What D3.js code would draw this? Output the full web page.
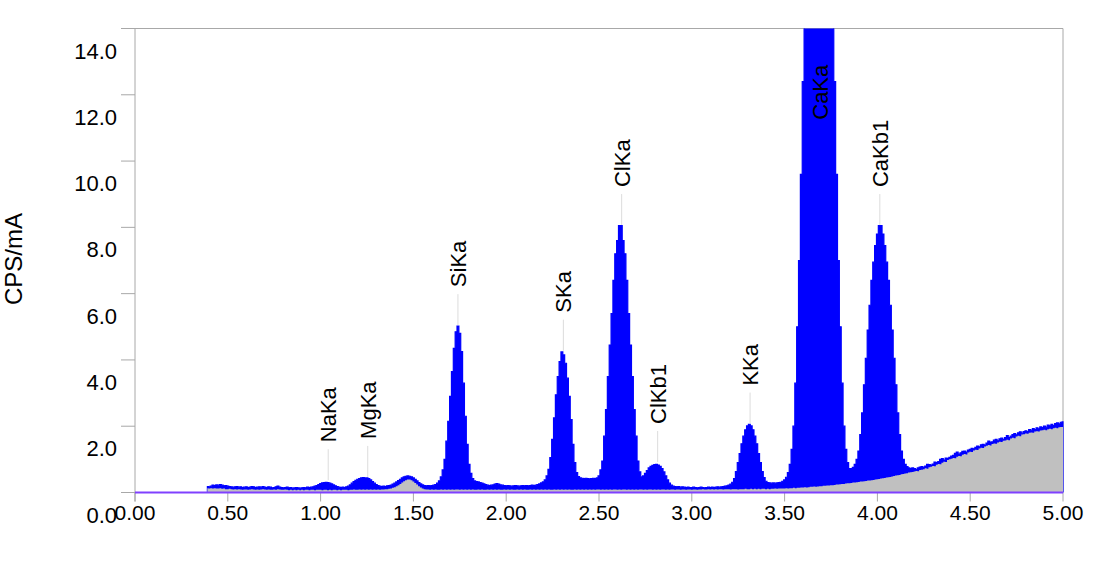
<!DOCTYPE html>
<html><head><meta charset="utf-8">
<script src="https://cdn.jsdelivr.net/npm/d3@7"></script>
<style>body{margin:0;background:#fff} svg{display:block} text{font-family:"Liberation Sans Narrow","Liberation Sans",Arial,sans-serif;fill:#000}</style>
</head><body><svg id="c" width="1120" height="561"></svg>
<script>
const energyStart = 0.39, energyStep = 0.01;
const spectrum = [
0.18,0.17,0.19,0.22,0.21,0.23,0.22,0.24,0.22,0.20,0.21,
0.19,0.18,0.17,0.16,0.17,0.18,0.16,0.17,0.15,0.16,
0.17,0.15,0.16,0.18,0.17,0.15,0.16,0.17,0.16,0.18,
0.16,0.15,0.17,0.16,0.14,0.15,0.17,0.19,0.16,0.15,
0.14,0.15,0.16,0.14,0.15,0.13,0.14,0.15,0.14,0.13,
0.14,0.15,0.14,0.16,0.15,0.16,0.17,0.19,0.21,0.24,
0.27,0.29,0.30,0.31,0.30,0.28,0.26,0.23,0.20,0.18,
0.16,0.15,0.16,0.15,0.17,0.19,0.23,0.28,0.33,0.37,
0.40,0.42,0.44,0.45,0.44,0.44,0.42,0.38,0.33,0.28,
0.24,0.21,0.19,0.18,0.19,0.18,0.20,0.21,0.22,0.25,
0.28,0.32,0.36,0.40,0.44,0.47,0.49,0.50,0.49,0.47,
0.44,0.40,0.35,0.30,0.26,0.23,0.21,0.20,0.21,0.20,
0.21,0.22,0.24,0.28,0.35,0.47,0.68,1.00,1.55,2.15,
2.90,3.65,4.35,4.85,5.02,4.80,4.25,3.30,2.30,1.45,
0.85,0.58,0.42,0.35,0.33,0.32,0.30,0.28,0.26,0.24,
0.22,0.21,0.22,0.23,0.25,0.27,0.25,0.23,0.22,0.21,
0.20,0.21,0.20,0.19,0.20,0.21,0.20,0.19,0.20,0.21,
0.20,0.21,0.20,0.21,0.22,0.21,0.22,0.24,0.26,0.29,
0.32,0.38,0.50,0.70,1.05,1.60,2.25,2.95,3.50,3.95,
4.24,4.15,3.90,3.45,2.90,2.20,1.45,0.90,0.60,0.48,
0.44,0.43,0.42,0.43,0.42,0.41,0.42,0.43,0.42,0.44,
0.50,0.68,0.95,1.70,2.50,3.50,4.45,5.40,6.40,7.20,
7.60,8.05,8.05,7.60,7.20,6.40,5.40,4.45,3.50,2.50,
1.70,0.95,0.62,0.47,0.50,0.58,0.66,0.74,0.79,0.82,
0.84,0.85,0.83,0.79,0.72,0.62,0.50,0.38,0.28,0.22,
0.19,0.18,0.17,0.18,0.16,0.17,0.16,0.15,0.16,0.15,
0.15,0.16,0.15,0.14,0.15,0.16,0.15,0.14,0.15,0.16,
0.15,0.16,0.15,0.16,0.17,0.16,0.17,0.18,0.19,0.20,
0.22,0.25,0.31,0.42,0.63,0.90,1.17,1.47,1.70,1.89,
2.01,2.06,2.01,1.89,1.70,1.47,1.17,0.90,0.63,0.45,
0.34,0.30,0.29,0.28,0.29,0.28,0.29,0.30,0.31,0.34,
0.38,0.46,0.60,0.85,1.30,2.00,3.30,5.00,7.00,9.60,
12.4,14.6,17.5,21.0,26.0,31.0,36.0,40.0,42.0,42.0,
40.0,36.0,31.0,26.0,21.0,17.5,14.6,12.4,9.60,7.00,
5.00,3.30,2.00,1.30,0.90,0.72,0.72,0.76,0.85,1.00,
1.25,1.75,2.40,3.25,4.05,4.90,5.65,6.40,6.95,7.45,
7.80,8.05,8.05,7.80,7.45,6.95,6.40,5.65,4.90,4.05,
3.25,2.40,1.75,1.25,1.00,0.85,0.78,0.74,0.72,0.74,
0.72,0.70,0.74,0.77,0.78,0.76,0.80,0.85,0.84,0.83,
0.86,0.92,0.90,0.93,1.00,1.02,0.98,1.04,1.03,1.06,
1.10,1.12,1.18,1.22,1.16,1.20,1.24,1.25,1.22,1.28,
1.30,1.33,1.32,1.36,1.40,1.38,1.44,1.45,1.43,1.49,
1.55,1.52,1.53,1.58,1.60,1.56,1.62,1.64,1.60,1.66,
1.72,1.66,1.70,1.75,1.78,1.74,1.80,1.83,1.79,1.84,
1.86,1.84,1.90,1.88,1.93,1.90,1.95,1.92,1.98,1.96,
2.00,1.97,2.03,2.01,2.06,2.02,2.08,2.10,2.07,2.12,
2.13];
const background = [
0.13,0.12,0.13,0.12,0.13,0.12,0.12,0.13,0.11,0.12,0.10,
0.10,0.11,0.10,0.09,0.10,0.09,0.10,0.09,0.08,0.09,
0.09,0.08,0.09,0.10,0.09,0.08,0.09,0.08,0.09,0.10,
0.09,0.08,0.09,0.08,0.08,0.09,0.08,0.10,0.09,0.08,
0.08,0.09,0.08,0.07,0.08,0.07,0.08,0.07,0.08,0.07,
0.08,0.07,0.08,0.08,0.07,0.08,0.08,0.07,0.08,0.08,
0.08,0.07,0.08,0.08,0.07,0.08,0.07,0.08,0.08,0.07,
0.08,0.07,0.08,0.08,0.08,0.07,0.08,0.08,0.09,0.08,
0.08,0.09,0.08,0.09,0.08,0.09,0.08,0.09,0.08,0.09,
0.08,0.09,0.08,0.09,0.09,0.10,0.10,0.11,0.12,0.14,
0.16,0.19,0.22,0.26,0.30,0.34,0.37,0.39,0.39,0.37,
0.33,0.29,0.24,0.19,0.15,0.12,0.10,0.09,0.09,0.08,
0.09,0.08,0.09,0.08,0.08,0.09,0.08,0.09,0.08,0.09,
0.08,0.09,0.08,0.09,0.09,0.08,0.09,0.08,0.09,0.08,
0.09,0.08,0.09,0.08,0.08,0.09,0.08,0.09,0.08,0.08,
0.09,0.08,0.09,0.08,0.09,0.08,0.09,0.08,0.08,0.09,
0.08,0.09,0.08,0.09,0.08,0.08,0.09,0.08,0.09,0.08,
0.09,0.08,0.08,0.09,0.08,0.09,0.08,0.09,0.08,0.09,
0.08,0.09,0.08,0.09,0.08,0.08,0.09,0.08,0.09,0.08,
0.09,0.08,0.09,0.08,0.09,0.08,0.08,0.09,0.08,0.09,
0.08,0.09,0.08,0.09,0.08,0.09,0.08,0.09,0.08,0.09,
0.09,0.08,0.09,0.08,0.09,0.08,0.09,0.08,0.09,0.09,
0.08,0.09,0.08,0.09,0.09,0.08,0.09,0.08,0.09,0.08,
0.09,0.08,0.09,0.09,0.08,0.09,0.08,0.09,0.09,0.08,
0.09,0.08,0.09,0.08,0.09,0.09,0.08,0.09,0.08,0.09,
0.09,0.08,0.09,0.09,0.08,0.09,0.09,0.08,0.09,0.09,
0.08,0.09,0.09,0.08,0.09,0.09,0.10,0.09,0.09,0.10,
0.09,0.10,0.09,0.10,0.09,0.10,0.10,0.09,0.10,0.10,
0.10,0.09,0.10,0.10,0.10,0.09,0.10,0.10,0.10,0.11,
0.10,0.10,0.11,0.10,0.11,0.10,0.11,0.10,0.11,0.11,
0.10,0.11,0.10,0.11,0.11,0.12,0.11,0.12,0.12,0.12,
0.12,0.13,0.12,0.13,0.13,0.14,0.13,0.14,0.14,0.15,
0.15,0.16,0.15,0.16,0.17,0.17,0.18,0.17,0.18,0.19,
0.19,0.20,0.20,0.21,0.21,0.22,0.22,0.23,0.24,0.24,
0.25,0.26,0.26,0.27,0.28,0.28,0.29,0.30,0.30,0.31,
0.32,0.33,0.33,0.34,0.35,0.36,0.36,0.37,0.38,0.39,
0.40,0.41,0.42,0.43,0.44,0.45,0.46,0.47,0.48,0.50,
0.51,0.52,0.53,0.55,0.56,0.57,0.58,0.60,0.61,0.62,
0.63,0.65,0.64,0.68,0.69,0.70,0.73,0.72,0.76,0.78,
0.80,0.79,0.84,0.86,0.85,0.90,0.93,0.92,0.98,1.00,
1.02,1.04,1.03,1.08,1.10,1.09,1.14,1.16,1.15,1.21,
1.23,1.22,1.27,1.29,1.28,1.33,1.35,1.34,1.39,1.41,
1.43,1.42,1.46,1.48,1.47,1.51,1.53,1.52,1.56,1.57,
1.59,1.58,1.63,1.65,1.64,1.69,1.71,1.70,1.75,1.76,
1.78,1.77,1.80,1.81,1.80,1.84,1.85,1.84,1.87,1.88,
1.89,1.88,1.91,1.92,1.91,1.94,1.95,1.94,1.97,1.98,
1.98];
const xTicks = [0.00,0.50,1.00,1.50,2.00,2.50,3.00,3.50,4.00,4.50,5.00];
const yTicks = [0.0,2.0,4.0,6.0,8.0,10.0,12.0,14.0];
const peakNames = ["NaKa","MgKa","SiKa","SKa","ClKa","ClKb1","KKa","CaKa","CaKb1"];
const peakEnergies = [1.041,1.254,1.740,2.308,2.622,2.816,3.314,3.692,4.013];
const peakHeights = [0.37,0.47,5.05,4.28,8.07,0.92,2.08,10.1,8.07];

const svg = d3.select("#c");
const x = d3.scaleLinear().domain([0,5]).range([135,1063]);
const y = d3.scaleLinear().domain([0,14]).range([492.5,28.5]);
const frameColor = "#a8a8a8";

const mk = (vals) => vals.map((v,i)=>({e: +(energyStart + i*energyStep).toFixed(2), v}));
const specData = mk(spectrum), bgData = mk(background);

svg.append("defs").append("clipPath").attr("id","clip")
  .append("rect").attr("x",x(0)).attr("y",y(14)).attr("width",x(5)-x(0)+1).attr("height",y(0)-y(14));

// frame
svg.append("line").attr("x1",121).attr("x2",x(5)).attr("y1",y(14)).attr("y2",y(14)).attr("stroke",frameColor);
svg.append("line").attr("x1",x(5)).attr("x2",x(5)).attr("y1",y(14)).attr("y2",y(0)).attr("stroke",frameColor);
svg.append("line").attr("x1",x(0)).attr("x2",x(0)).attr("y1",y(14)).attr("y2",y(0)+9).attr("stroke",frameColor);

// y ticks
const yg = svg.append("g");
yg.selectAll("line").data(yTicks).join("line")
  .attr("x1",121).attr("x2",x(0)).attr("y1",d=>y(d)).attr("y2",d=>y(d)).attr("stroke",frameColor);
yg.selectAll("text").data(yTicks).join("text")
  .attr("x",117).attr("y",d=>y(d)+30).attr("text-anchor","end").attr("font-size",22)
  .text(d=>d3.format(".1f")(d));

// x ticks
const xg = svg.append("g");
xg.selectAll("line").data(xTicks).join("line")
  .attr("x1",d=>x(d)).attr("x2",d=>x(d)).attr("y1",y(0)).attr("y2",y(0)+9).attr("stroke",frameColor);
xg.selectAll("text").data(xTicks).join("text")
  .attr("x",d=>x(d)).attr("y",520).attr("text-anchor","middle").attr("font-size",21)
  .text(d=>d3.format(".2f")(d));

// y title
svg.append("text").attr("transform","translate(21.5,259) rotate(-90)")
  .attr("text-anchor","middle").attr("font-size",24).text("CPS/mA");

// spectrum
const plot = svg.append("g").attr("clip-path","url(#clip)");
const area = d3.area().x(d=>x(d.e)).y0(y(0)).y1(d=>y(d.v)).curve(d3.curveStep);
plot.append("path").datum(specData).attr("d",area).attr("fill","#0000ff").attr("stroke","#0000ff").attr("stroke-width",1.2);
plot.append("path").datum(bgData).attr("d",area).attr("fill","#c0c0c0");

// baseline
svg.append("line").attr("x1",x(0)).attr("x2",x(5)).attr("y1",y(0)).attr("y2",y(0))
  .attr("stroke","#8040ff").attr("stroke-width",2);

// peak labels
const lg = svg.append("g");
peakNames.forEach((name,i)=>{
  const px = x(peakEnergies[i]), py = y(peakHeights[i]);
  if (name !== "CaKa") {
    lg.append("line").attr("x1",px).attr("x2",px).attr("y1",py-31).attr("y2",py)
      .attr("stroke","#dcdcdc").attr("stroke-width",1);
  }
  lg.append("text").attr("transform",`translate(${px},${py-38}) rotate(-90)`)
    .attr("dy","0.36em").attr("font-size",22).text(name);
});
</script></body></html>
